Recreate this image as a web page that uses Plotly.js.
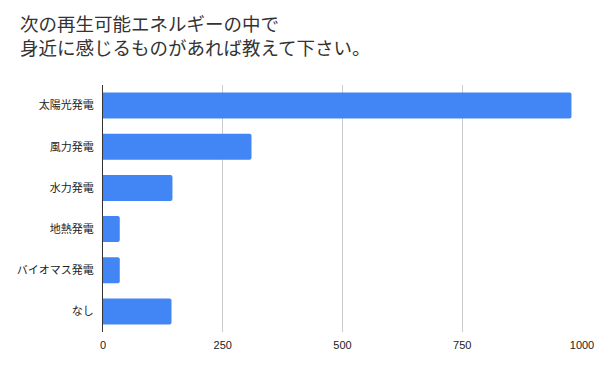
<!DOCTYPE html>
<html>
<head>
<meta charset="utf-8">
<script src="https://cdn.plot.ly/plotly-3.0.1.min.js"></script>
<style>html,body{margin:0;padding:0;background:#fff;}#chart{width:600px;height:371px;}</style>
</head>
<body>
<div id="chart"></div>
<script>
const categories = ["太陽光発電", "風力発電", "水力発電", "地熱発電", "バイオマス発電", "なし"];
const values = [978, 310, 145, 35, 35, 143];
const xTicks = [0, 250, 500, 750, 1000];
const titleText = "次の再生可能エネルギーの中で<br>身近に感じるものがあれば教えて下さい。";

const fontFam = "Arial, 'Liberation Sans', 'Noto Sans CJK JP', sans-serif";

Plotly.newPlot('chart', [{
  type: 'bar',
  orientation: 'h',
  y: categories,
  x: values,
  marker: {color: '#4285f4', cornerradius: 2},
  hoverinfo: 'x+y'
}], {
  width: 600, height: 371,
  margin: {l: 103, r: 18, t: 85, b: 39},
  paper_bgcolor: '#fff', plot_bgcolor: '#fff',
  bargap: 0.37,
  font: {family: fontFam, size: 11, color: '#222'},
  title: {
    text: titleText,
    x: 20/600, xref: 'container', xanchor: 'left',
    y: 1 - 31/371, yref: 'container', yanchor: 'top',
    font: {family: "'Noto Sans CJK JP', sans-serif", size: 18.5, color: '#333'}
  },
  xaxis: {
    range: [0, 1000],
    tickvals: xTicks,
    ticktext: xTicks.map(String),
    showgrid: true, gridcolor: '#cccccc', gridwidth: 1,
    zeroline: false, showline: false,
    ticks: '', ticklabelstandoff: 5,
    tickfont: {size: 11, color: '#222'},
    fixedrange: true
  },
  yaxis: {
    type: 'category',
    autorange: 'reversed',
    showgrid: false, zeroline: false,
    showline: true, linecolor: '#333', linewidth: 1,
    ticks: '', ticklabelstandoff: 6,
    tickfont: {size: 11, color: '#222', family: "'Noto Sans CJK JP', sans-serif"},
    fixedrange: true
  },
  showlegend: false
}, {displayModeBar: false, staticPlot: true});
</script>
</body>
</html>
